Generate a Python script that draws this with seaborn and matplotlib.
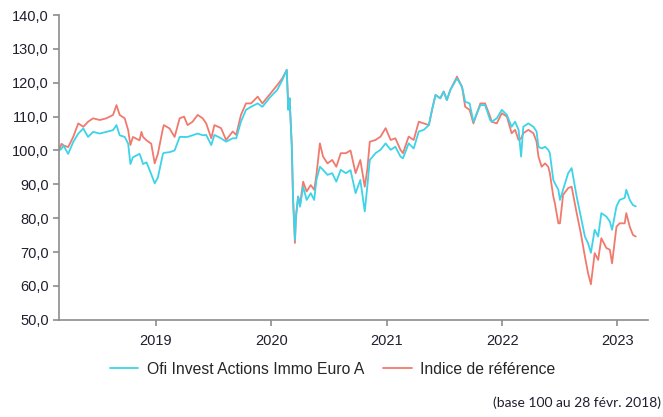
import pandas as pd
import numpy as np
import matplotlib
matplotlib.use("Agg")
import matplotlib.pyplot as plt
import matplotlib.dates as mdates
from matplotlib.ticker import FuncFormatter, FixedLocator
import seaborn as sns

# values (base 100 on 28 Feb 2018)
dates = [
    "2018-02-28", "2018-03-08", "2018-03-14", "2018-03-29", "2018-04-14", "2018-04-30",
    "2018-05-16", "2018-05-31", "2018-06-16", "2018-07-07", "2018-07-28", "2018-08-18",
    "2018-08-29", "2018-09-08", "2018-09-24", "2018-10-05", "2018-10-12", "2018-10-20",
    "2018-11-10", "2018-11-16", "2018-11-21", "2018-12-02", "2018-12-17", "2018-12-28",
    "2019-01-07", "2019-01-23", "2019-01-26", "2019-02-13", "2019-03-01", "2019-03-17",
    "2019-03-31", "2019-04-11", "2019-04-27", "2019-05-13", "2019-05-29", "2019-06-09",
    "2019-06-25", "2019-07-05", "2019-07-26", "2019-08-11", "2019-09-01", "2019-09-12",
    "2019-09-27", "2019-10-13", "2019-10-29", "2019-11-19", "2019-12-04", "2019-12-30",
    "2020-01-20", "2020-02-05", "2020-02-19", "2020-02-24", "2020-02-28", "2020-03-06",
    "2020-03-10", "2020-03-16", "2020-03-19", "2020-03-26", "2020-04-01", "2020-04-11",
    "2020-04-22", "2020-05-05", "2020-05-16", "2020-05-23", "2020-06-03", "2020-06-13",
    "2020-06-27", "2020-07-12", "2020-07-25", "2020-08-08", "2020-08-24", "2020-09-08",
    "2020-09-24", "2020-10-09", "2020-10-23", "2020-10-31", "2020-11-08", "2020-11-26",
    "2020-12-12", "2020-12-28", "2021-01-13", "2021-01-28", "2021-02-13", "2021-02-21",
    "2021-03-11", "2021-03-27", "2021-04-12", "2021-04-28", "2021-05-14", "2021-05-24",
    "2021-06-04", "2021-06-19", "2021-06-30", "2021-07-10", "2021-07-21", "2021-08-11",
    "2021-08-27", "2021-09-06", "2021-09-20", "2021-10-02", "2021-10-24", "2021-11-08",
    "2021-11-24", "2021-11-29", "2021-12-15", "2021-12-31", "2022-01-16", "2022-01-31",
    "2022-02-11", "2022-02-22", "2022-03-02", "2022-03-09", "2022-03-25", "2022-04-10",
    "2022-04-20", "2022-04-26", "2022-05-06", "2022-05-17", "2022-05-27", "2022-06-01",
    "2022-06-12", "2022-06-17", "2022-06-28", "2022-07-03", "2022-07-13", "2022-07-29",
    "2022-08-09", "2022-08-25", "2022-09-07", "2022-09-20", "2022-09-30", "2022-10-09",
    "2022-10-21", "2022-11-01", "2022-11-11", "2022-11-27", "2022-12-08", "2022-12-15",
    "2022-12-29", "2023-01-08", "2023-01-24", "2023-01-29", "2023-02-09", "2023-02-19",
    "2023-02-28",
]

fonds = [
    100.0, 100.5, 101.5, 99.0, 102.5, 105.0,
    106.5, 104.0, 105.5, 105.0, 105.5, 106.0,
    107.5, 104.5, 104.0, 102.0, 96.0, 98.0,
    99.0, 97.5, 96.0, 96.5, 93.0, 90.3,
    92.0, 99.0, 99.3, 99.5, 100.0, 104.0,
    104.0, 104.0, 104.5, 105.0, 104.5, 104.6,
    101.6, 104.6, 103.6, 102.6, 103.6, 103.6,
    108.5, 112.0, 112.9, 113.9, 112.9, 115.9,
    117.9, 120.8, 123.8, 112.0, 115.4, 101.1,
    85.4, 73.6, 80.5, 86.4, 83.4, 89.3,
    85.4, 87.4, 85.4, 91.3, 95.2, 94.3,
    92.8, 93.3, 90.8, 94.3, 93.3, 94.2,
    87.4, 91.3, 82.0, 89.3, 97.2, 99.2,
    100.2, 102.1, 100.2, 101.1, 98.2, 97.7,
    102.1, 100.6, 105.6, 106.1, 107.5, 112.0,
    116.4, 115.4, 117.4, 114.9, 117.9, 121.3,
    118.8, 114.4, 113.9, 108.5, 113.4, 113.4,
    109.0, 108.5, 109.5, 112.0, 110.5, 107.0,
    108.5, 106.1, 98.2, 107.0, 108.0, 107.0,
    105.6, 101.1, 100.6, 101.1, 100.2, 99.2,
    91.3, 90.3, 88.4, 85.4, 88.4, 93.3,
    94.8, 86.4, 80.5, 74.6, 72.6, 69.8,
    76.6, 74.6, 81.5, 80.5, 79.0, 76.6,
    83.5, 85.4, 86.0, 88.4, 85.4, 83.9,
    83.5,
]

indice = [
    100.0, 102.0, 101.5, 101.0, 104.0, 108.0,
    107.0, 108.5, 109.5, 109.0, 109.5, 110.5,
    113.4, 110.5, 109.5, 106.0, 101.6, 104.0,
    103.0, 105.5, 104.0, 103.0, 102.0, 96.2,
    99.0, 106.5, 107.5, 106.5, 104.0, 109.5,
    110.0, 107.5, 108.5, 110.5, 109.5, 108.0,
    103.6, 107.5, 106.6, 103.1, 105.6, 104.6,
    110.5, 113.9, 113.9, 115.9, 113.9, 116.9,
    119.3, 121.3, 123.8, 112.5, 115.4, 101.5,
    86.0, 72.7, 80.0, 86.4, 84.0, 90.8,
    87.9, 89.8, 88.4, 92.8, 102.1, 98.2,
    96.2, 97.2, 95.2, 99.2, 99.2, 100.0,
    93.3, 97.2, 89.3, 94.3, 102.6, 103.1,
    104.1, 106.6, 103.1, 103.6, 100.2, 99.2,
    104.1, 103.1, 108.5, 108.0, 107.5, 112.0,
    116.4, 115.4, 117.4, 114.9, 117.9, 121.8,
    118.8, 112.9, 112.0, 108.0, 113.9, 113.9,
    110.0, 108.5, 108.0, 111.0, 110.0, 105.1,
    106.1, 103.1, 103.6, 105.1, 106.1, 105.1,
    102.6, 98.2, 95.2, 96.2, 95.2, 93.3,
    86.4, 84.4, 78.5, 78.5, 86.9, 88.9,
    89.3, 81.5, 75.6, 68.7, 63.8, 60.5,
    69.7, 67.7, 74.1, 71.2, 70.7, 66.7,
    77.5, 78.5, 78.5, 81.5, 77.5, 75.1,
    74.6,
]

nom_fonds = "Ofi Invest Actions Immo Euro A"
nom_indice = "Indice de référence"
annees = ["2019", "2020", "2021", "2022", "2023"]

df = pd.DataFrame({"date": pd.to_datetime(dates), nom_fonds: fonds, nom_indice: indice})

sns.set_style("white")
plt.rcParams["font.family"] = ["Liberation Sans", "DejaVu Sans"]

fig = plt.figure(figsize=(6.63, 4.17), dpi=100)
ax = fig.add_axes([0.089, 0.233, 0.888, 0.731])

cyan = "#3DD3E9"
rouge = "#F07A6D"
# index first so the fund line sits on top
sns.lineplot(data=df, x="date", y=nom_indice, color=rouge, linewidth=1.3, ax=ax, label=nom_indice)
sns.lineplot(data=df, x="date", y=nom_fonds, color=cyan, linewidth=1.3, ax=ax, label=nom_fonds)

ax.set_ylim(50, 140)
ax.set_xlim(pd.Timestamp("2018-02-28"), pd.Timestamp("2023-04-07"))
ax.set_yticks(np.arange(50, 141, 10))
ax.yaxis.set_major_formatter(FuncFormatter(lambda v, p: f"{v:.1f}".replace(".", ",")))
ax.xaxis.set_major_locator(FixedLocator([mdates.date2num(pd.Timestamp(a + "-01-01")) for a in annees]))
ax.set_xticklabels(annees)
ax.set_xlabel("")
ax.set_ylabel("")

for s in ["top", "right"]:
    ax.spines[s].set_visible(False)
for s in ["left", "bottom"]:
    ax.spines[s].set_color("#8c8c8c")
    ax.spines[s].set_linewidth(1.2)
ax.tick_params(axis="both", which="major", length=4, width=1.2, color="#8c8c8c",
               labelsize=10.5, labelcolor="#1f1f2e", direction="out", left=True, bottom=True)
ax.tick_params(axis="x", pad=6)

h, l = ax.get_legend_handles_labels()
ax.get_legend().remove()
fig.legend([h[1], h[0]], [l[1], l[0]], loc="center", bbox_to_anchor=(0.502, 0.115), ncol=2,
           frameon=False, fontsize=11.3, handlelength=1.8, columnspacing=1.2, handletextpad=0.55)

fig.text(0.997, 0.02, "(base 100 au 28 févr. 2018)", ha="right", va="bottom",
         fontsize=10, color="#1f1f2e", family=["Lato", "DejaVu Sans"])

fig.savefig("out.png", dpi=100)
